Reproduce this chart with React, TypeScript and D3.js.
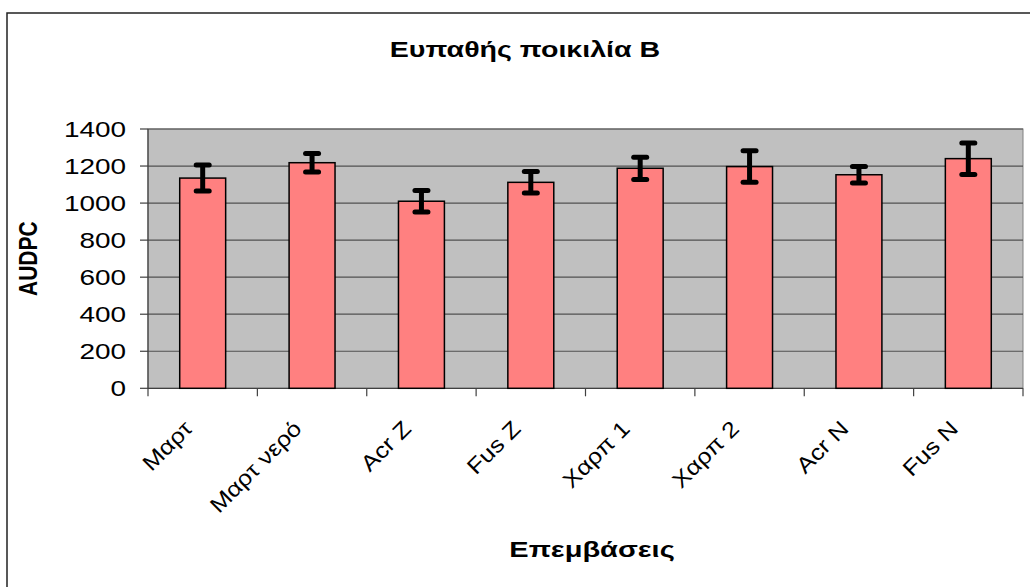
import React from "react";
import * as d3 from "d3";

const categories = ["Μαρτ", "Μαρτ νερό", "Acr Z", "Fus Z", "Χαρπ 1", "Χαρπ 2", "Acr N", "Fus N"];
const values = [1135, 1218, 1010, 1112, 1188, 1197, 1153, 1240];
const errors = [70, 50, 58, 58, 60, 85, 44, 85];
const yTicks = [0, 200, 400, 600, 800, 1000, 1200, 1400];
const title = "Ευπαθής ποικιλία B";
const xTitle = "Επεμβάσεις";
const yTitle = "AUDPC";

const W = 1030;
const H = 587;
const SX = 1.27;
const FONT = "Arial, 'Liberation Sans', sans-serif";

export default function App() {
  const left = 148, right = 1023, top = 129, bottom = 388.3;
  const x = d3.scaleBand<string>().domain(categories).range([left, right]).padding(0);
  const y = d3.scaleLinear().domain([0, 1400]).range([bottom, top]);
  const step = x.step();
  const bw = step * 0.42;

  return (
    <svg width={W} height={H} style={{ position: "absolute", left: 0, top: 0, background: "#fff" }}>
      <rect x={7} y={13} width={1200} height={800} fill="#fff" stroke="#222" strokeWidth={1.5} />
      {/* plot area */}
      <rect x={left} y={top} width={right - left} height={bottom - top} fill="#C0C0C0" stroke="#808080" strokeWidth={1} />
      {yTicks.filter(t => t > 0).map(t => (
        <line key={"g" + t} x1={left} x2={right} y1={y(t)} y2={y(t)} stroke="#505050" strokeWidth={1.2} />
      ))}
      {/* y axis */}
      <line x1={left} x2={left} y1={top} y2={bottom} stroke="#404040" strokeWidth={1.2} />
      {yTicks.map(t => (
        <g key={"t" + t}>
          <line x1={left - 8} x2={left} y1={y(t)} y2={y(t)} stroke="#404040" strokeWidth={1.2} />
          <text transform={`translate(126,${y(t)}) scale(${SX},1)`} textAnchor="end" dy="0.36em"
            fontFamily={FONT} fontSize={22} fill="#000">{t}</text>
        </g>
      ))}
      {/* x axis */}
      <line x1={left} x2={right} y1={bottom} y2={bottom} stroke="#404040" strokeWidth={1.2} />
      {d3.range(categories.length + 1).map(i => (
        <line key={"xt" + i} x1={left + i * step} x2={left + i * step} y1={bottom} y2={bottom + 8} stroke="#404040" strokeWidth={1.2} />
      ))}
      {/* bars */}
      {categories.map((c, i) => {
        const cx = (x(c) as number) + step / 2;
        return (
          <rect key={"b" + c} x={cx - bw / 2} y={y(values[i])} width={bw} height={bottom - y(values[i])}
            fill="#FF8080" stroke="#000" strokeWidth={1.5} />
        );
      })}
      {/* error bars */}
      {categories.map((c, i) => {
        const cx = (x(c) as number) + step / 2;
        const hi = y(values[i] + errors[i]);
        const lo = y(values[i] - errors[i]);
        return (
          <g key={"e" + c} stroke="#000" strokeWidth={5} strokeLinecap="round">
            <line x1={cx} x2={cx} y1={hi} y2={lo} strokeLinecap="butt" />
            <line x1={cx - 6.5} x2={cx + 6.5} y1={hi} y2={hi} />
            <line x1={cx - 6.5} x2={cx + 6.5} y1={lo} y2={lo} />
          </g>
        );
      })}
      {/* x labels */}
      {categories.map(c => {
        const cx = (x(c) as number) + step / 2;
        return (
          <text key={"xl" + c} transform={`translate(${cx - 9},${430}) rotate(-45) scale(1.15,1)`}
            textAnchor="end" fontFamily={FONT} fontSize={22} fill="#000">{c}</text>
        );
      })}
      {/* titles */}
      <text transform={`translate(525,57) scale(1.3,1)`} textAnchor="middle" fontFamily={FONT}
        fontWeight="bold" fontSize={22} fill="#000">{title}</text>
      <text transform={`translate(592,557) scale(1.32,1)`} textAnchor="middle" fontFamily={FONT}
        fontWeight="bold" fontSize={22} fill="#000">{xTitle}</text>
      <text transform={`translate(37,${(top + bottom) / 2}) scale(${SX},1) rotate(-90)`} textAnchor="middle"
        fontFamily={FONT} fontWeight="bold" fontSize={21} fill="#000">{yTitle}</text>
    </svg>
  );
}
